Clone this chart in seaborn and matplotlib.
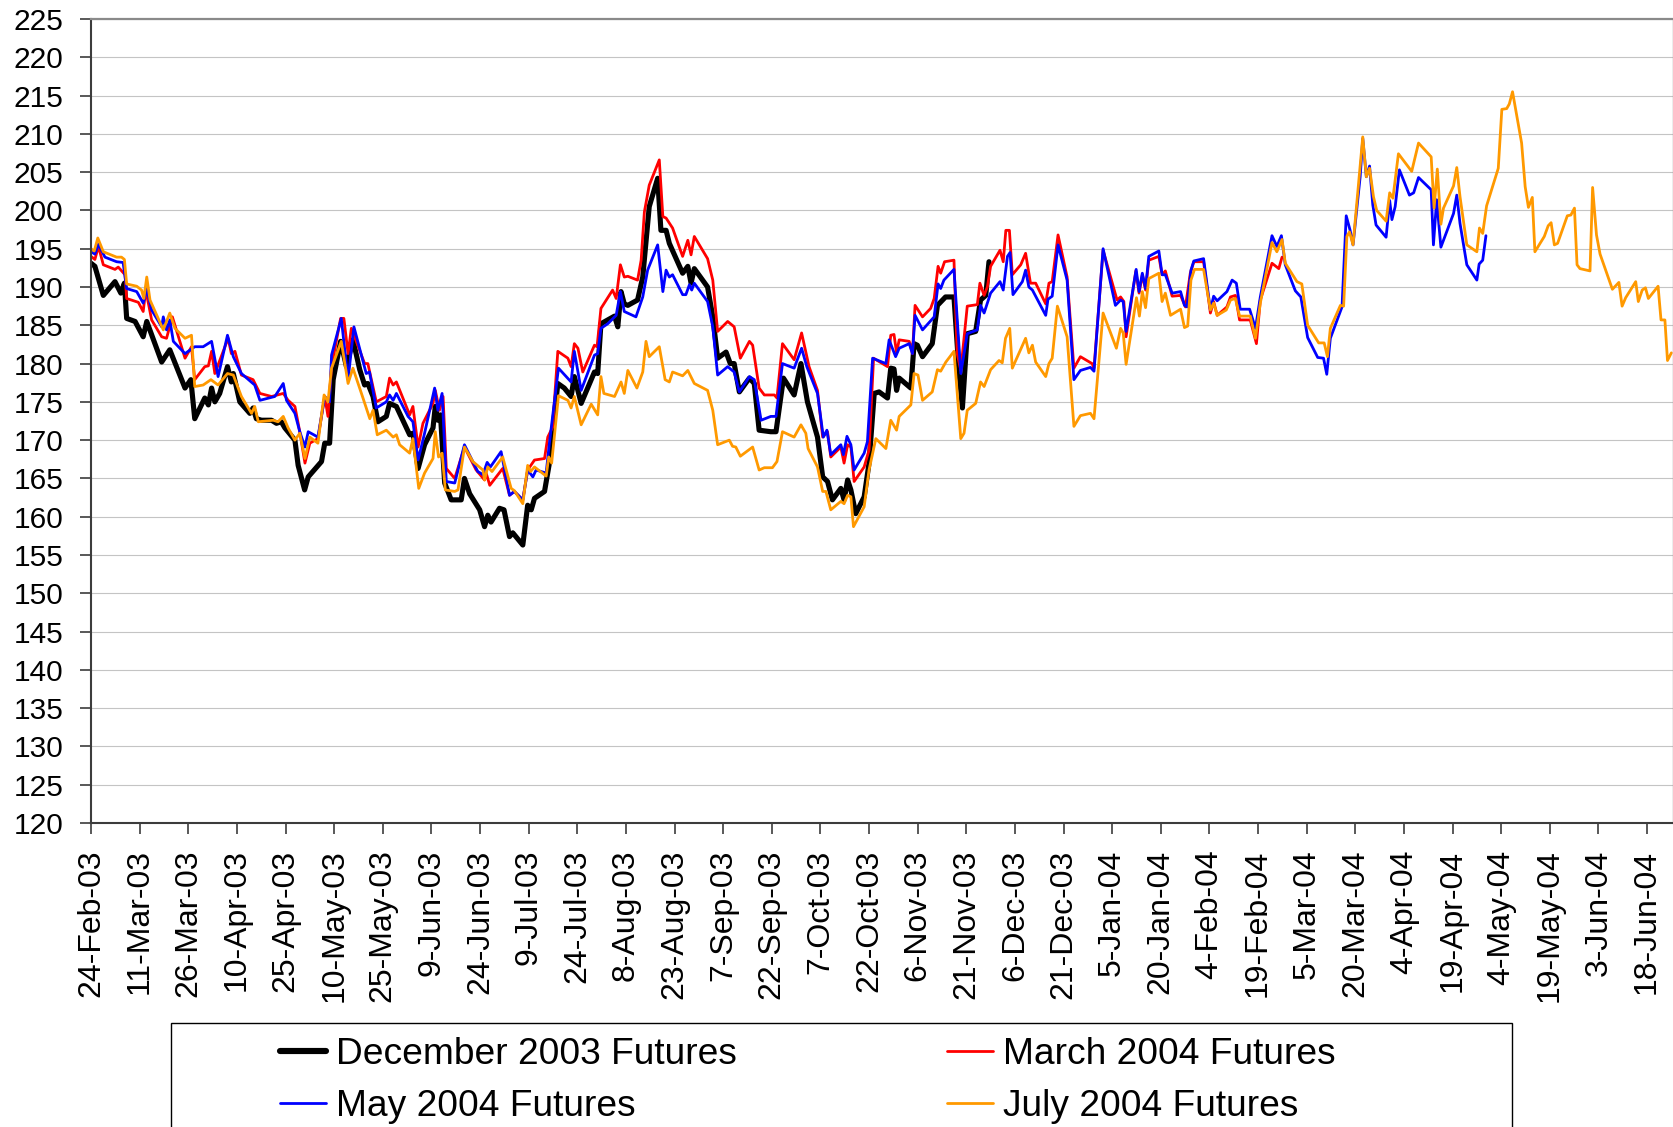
import numpy as np
import pandas as pd
import matplotlib
matplotlib.use("Agg")
import matplotlib.pyplot as plt
import matplotlib.dates as mdates
from matplotlib.patches import Rectangle
from matplotlib.lines import Line2D
import seaborn as sns

# ---------------- data (calendar days after 24-Feb-2003, price) ----------------
START = "2003-02-24"

dec_days = [0, 1.2, 3.8, 7.4, 9.2, 10.3, 11, 13.6, 16.1, 17.2, 21.8, 24.3, 29, 30.8, 32, 35.1, 36.2, 37.2, 38.2, 39.7,
            42.1, 43.3, 43.9, 45.9, 49, 50, 51, 52.6, 55.7, 57.2, 58.7, 59.8, 62.9, 63.9, 65.9, 67, 71.1, 72.1, 73.6, 74.7,
            77, 78.8, 80.8, 82.9, 84.4, 85.4, 87, 88.5, 91.1, 92.1, 94.2, 98.3, 99.3, 100.9, 102.9, 105.5, 106.2, 107, 107.8,
            109.1, 111.1, 114.2, 115.2, 116.8, 119.9, 121.4, 122.4, 123.4, 126, 127.4, 129.1, 130.1, 133.2, 134.7, 135.8,
            136.8, 139.9, 141.4, 144, 146, 148.1, 149.1, 151.2, 155.3, 156.3, 157.3, 161.5, 162.5, 163.5, 164.5, 165.6,
            168.6, 170.2, 172.2, 174.8, 175.8, 177.4, 178.4, 182.5, 184.1, 185.1, 186.1, 190.2, 191.8, 193.3, 195.9, 197.2,
            198.4, 200.0, 203.1, 204.6, 206.1, 209.7, 211.3, 213.6, 216.9, 219.0, 221.0, 224.1, 225.7, 227.2, 228.7, 231.3,
            232.3, 233.4, 234.4, 235.9, 238.5, 240.0, 241.6, 243.1, 245.7, 246.7, 247.7, 248.5, 249.3, 252.9, 253.9, 254.9,
            256.5, 259.5, 261.1, 263.6, 266.2, 267.8, 268.8, 270.3, 272.9, 274.4, 276.0, 277.0]
dec_vals = [193.1, 192.7, 188.9, 190.7, 189.2, 190.5, 185.9, 185.5, 183.5, 185.5, 180.2, 181.8, 176.8, 177.9, 172.8, 175.5,
            174.6, 176.8, 175.0, 176.1, 179.6, 177.6, 178.7, 175.0, 173.5, 174.2, 172.8, 172.6, 172.6, 172.2, 172.4, 171.6,
            170.0, 166.7, 163.5, 165.2, 167.2, 169.6, 169.6, 177.9, 182.9, 179.6, 183.1, 179.2, 177.2, 177.4, 175.7, 172.4,
            173.1, 174.8, 174.4, 170.7, 170.9, 166.3, 169.4, 171.6, 174.4, 172.6, 173.3, 164.4, 162.2, 162.2, 165.0, 163.0,
            160.9, 158.7, 160.2, 159.3, 161.1, 160.9, 157.4, 157.9, 156.3, 161.5, 160.9, 162.4, 163.3, 167.0, 177.4, 176.8,
            175.7, 178.3, 174.8, 178.9, 178.7, 185.2, 186.2, 184.8, 189.4, 187.8, 187.6, 188.3, 191.3, 200.5, 204.2, 197.4,
            197.4, 195.7, 191.8, 192.7, 190.5, 192.4, 190.0, 186.1, 180.7, 181.5, 180.0, 180.0, 176.3, 178.1, 177.4, 171.3,
            171.1, 171.1, 178.1, 175.9, 180.0, 175.0, 170.4, 165.2, 164.6, 162.2, 163.7, 162.2, 164.8, 163.5, 160.4, 162.6,
            167.0, 176.1, 176.3, 175.5, 179.4, 179.3, 176.5, 178.1, 176.8, 182.6, 182.4, 180.9, 182.6, 187.6, 188.7, 188.7,
            178.7, 174.2, 183.9, 184.2, 188.3, 188.9, 193.3]

mar_days = [0, 1.2, 2.3, 3.8, 7.4, 8.4, 10.5, 11, 14.6, 16.1, 16.9, 18.7, 21.8, 23.3, 25.1, 29, 31, 32, 35.1, 36.2, 37.2,
            38.2, 42.3, 43.3, 44.4, 46.4, 50, 52.1, 55.7, 59.3, 60.8, 62.9, 64.4, 66, 67.5, 70, 72.1, 73.1, 74.2, 77, 78,
            79.3, 80.3, 81.3, 84.4, 85.4, 88.0, 91.1, 92.1, 93.2, 94.2, 98.3, 99.3, 100.9, 102.4, 105.5, 106.2, 107.5, 108.6,
            109.6, 112.2, 115.2, 118.8, 121.4, 121.9, 123, 127.0, 129.1, 130.6, 133.2, 134.7, 136.8, 139.9, 140.9, 142.4, 144,
            147.1, 148.1, 149.1, 150.2, 151.7, 155.3, 156.1, 157.3, 160.9, 162.0, 163.3, 164.5, 165.6, 168.6, 169.7, 170.7,
            172.2, 175.3, 176.4, 177.4, 179.4, 182.5, 184.1, 185.1, 186.1, 190.2, 191.8, 193.3, 196.4, 198.4, 200.3, 203.1,
            204.1, 206.1, 207.7, 210.8, 211.6, 213.3, 216.9, 219.2, 221.5, 224.1, 225.7, 227.2, 228.2, 231.3, 232.3, 233.4,
            234.4, 235.4, 238.5, 240, 241.4, 245.7, 246.7, 247.7, 248.5, 249.3, 252.4, 253.4, 254.2, 256.5, 259.0, 260.1,
            261.3, 262.1, 263.3, 266.2, 267.2, 268.3, 270.3, 273.4, 274.2, 275.5, 276.5, 277.5, 280.4, 281.4, 282.2, 283.3,
            284.2, 286.8, 288.3, 289.8, 291.4, 294.5, 295.5, 296.5, 298.3, 301.1, 303.2, 305.2, 308.8, 309.4, 312.2, 316.5,
            317.6, 318.6, 319.3, 322.3, 323.3, 324.3, 325.3, 326.3, 329.4, 330.4, 331.4, 333.5, 336.1, 337.6, 339.1, 340.2,
            343.2, 345.3, 346.3, 347.4, 350.4, 351.5, 353, 354.3, 357.6, 359.5, 360.7, 364.3, 366.4, 367.4]
mar_vals = [194.0, 193.6, 195.3, 192.9, 192.3, 192.6, 191.6, 188.5, 188.0, 186.8, 189.6, 185.7, 183.5, 183.3, 186.1, 180.7,
            182.2, 177.9, 179.6, 179.7, 181.6, 178.7, 183.3, 181.3, 181.6, 178.5, 177.9, 176.1, 175.7, 176.1, 175.2, 174.4,
            171.1, 167.0, 169.6, 170.2, 175.7, 173.1, 179.6, 185.9, 185.9, 181.3, 184.6, 183.5, 180.0, 180.0, 175.0, 175.7,
            178.1, 177.2, 177.6, 173.3, 174.4, 169.1, 172.2, 174.8, 176.5, 173.9, 175.7, 166.3, 165.0, 169.1, 166.1, 164.8,
            165.7, 164.1, 166.3, 162.8, 163.3, 162.2, 166.1, 167.4, 167.6, 170.4, 171.7, 181.6, 180.7, 179.6, 182.6, 182.0,
            178.9, 182.4, 182.2, 187.2, 189.6, 188.5, 192.9, 191.3, 191.4, 190.9, 193.5, 199.8, 203.3, 206.6, 199.2, 199.0,
            197.7, 194.0, 196.1, 194.2, 196.6, 193.7, 190.9, 184.2, 185.5, 184.8, 180.7, 182.9, 182.4, 176.8, 175.9, 175.9,
            175.5, 182.6, 180.5, 184.0, 179.6, 176.5, 170.4, 171.1, 167.8, 169.1, 167.0, 169.4, 169.1, 164.6, 166.5, 168.7,
            180.7, 179.6, 183.7, 183.8, 181.4, 183.1, 182.9, 181.3, 187.6, 186.1, 187.2, 188.5, 192.7, 191.8, 193.3, 193.5,
            181.3, 179.1, 187.5, 187.7, 190.5, 188.9, 190.0, 192.7, 194.8, 193.3, 197.4, 197.4, 191.6, 192.9, 194.4, 190.5,
            190.5, 187.8, 190.5, 190.7, 196.8, 191.3, 179.4, 180.9, 180.0, 179.4, 194.8, 188.3, 188.7, 188.1, 183.5, 192.1,
            189.2, 191.6, 189.6, 193.5, 194.0, 191.6, 192.1, 188.8, 188.9, 187.4, 191.8, 193.3, 193.3, 186.6, 188.1, 186.3,
            187.4, 188.7, 188.9, 185.7, 185.7, 182.6, 188.3, 193.1, 192.4, 193.9]

may_days = [0, 1.2, 2.3, 4.3, 7.9, 9.9, 11, 14.1, 16.1, 17.2, 18.7, 21.8, 22.3, 23.3, 24.3, 25.4, 29, 32, 34.6, 37.2, 39.2,
            42.1, 43.9, 46.4, 50.5, 52.1, 56.7, 59.3, 60.3, 62.9, 64.4, 66, 67, 70, 72.1, 73.6, 74.2, 77.2, 79.3, 81.1, 84.9,
            85.9, 88.0, 91.1, 92.1, 93.2, 94.2, 97.8, 99.3, 100.9, 102.9, 106, 107, 108.3, 109.6, 112.2, 115.2, 119.3, 120.9,
            122.2, 123.2, 126.5, 129.1, 130.6, 133.2, 134.7, 136.3, 137.3, 140.4, 141.4, 144.2, 148.1, 149.1, 151.2, 155.3,
            156.3, 157.3, 159.4, 162.0, 163.3, 164.5, 168.1, 170.2, 171.7, 174.8, 176.4, 177.4, 178.4, 179.4, 182.5, 183.5,
            184.6, 185.3, 186.1, 190.2, 191.8, 193.3, 196.4, 198.4, 200.0, 203.1, 204.6, 206.7, 209.7, 211.3, 213.3, 216.9,
            219.2, 220.8, 224.1, 225.9, 227, 228.2, 231.3, 232.1, 233.2, 234.4, 235.4, 238.5, 239.5, 241.1, 245.2, 246.2,
            248.2, 249.3, 252.4, 253.4, 254.2, 256.5, 260.1, 261.3, 262.1, 263.1, 266.2, 268.3, 270.3, 273.4, 274.4, 275.5,
            277.5, 280.4, 281.4, 282.7, 283.5, 284.4, 287.3, 288.3, 289.3, 290.4, 294.5, 295.2, 296.5, 298.3, 301.1, 303.2,
            305.2, 308.3, 309.4, 312.2, 316.0, 317.6, 318.4, 319.3, 322.4, 323.3, 324.3, 325.3, 326.3, 329.4, 330.4, 331.4,
            333.5, 336.1, 337.3, 338.1, 339.3, 340.2, 343.2, 345.3, 346.3, 347.4, 350.4, 352, 353.3, 354.5, 357.4, 359.2,
            360.7, 364.3, 365.8, 367.2, 368.4, 371.5, 373.2, 375.3, 378.4, 380.2, 381.2, 382.3, 385.9, 387.2, 388.4, 389.3,
            391.5, 392.3, 393.4, 394.4, 395.4, 396.4, 399.5, 400.6, 401.3, 402.3, 403.6, 406.7, 408.0, 409.5, 413.4, 414.1,
            415.1, 416.4, 420.3, 421.3, 422.3, 424.4, 427.5, 428.2, 429.3, 430.3]
may_vals = [194.6, 194.3, 195.6, 193.9, 193.3, 193.2, 189.8, 189.4, 187.9, 189.8, 187.0, 184.8, 186.1, 184.4, 185.7, 182.9,
            181.3, 182.2, 182.2, 182.9, 178.3, 183.7, 180.9, 178.7, 177.2, 175.2, 175.7, 177.4, 175.2, 173.5, 171.1, 169.1,
            171.1, 170.4, 175.7, 175.0, 181.1, 185.9, 177.9, 184.8, 178.7, 178.9, 174.2, 175.0, 175.9, 175.2, 176.1, 173.1,
            172.4, 167.4, 170.9, 176.8, 173.9, 176.1, 164.6, 164.4, 169.4, 165.9, 165.5, 167.1, 166.5, 168.5, 162.8, 163.3,
            162.2, 166.1, 165.2, 166.1, 165.7, 169.6, 179.4, 177.6, 181.6, 176.5, 181.1, 181.3, 184.6, 185.2, 186.3, 189.4,
            186.8, 186.1, 188.7, 192.2, 195.5, 189.4, 192.2, 191.3, 191.6, 189.0, 189.0, 190.3, 189.6, 190.5, 188.1, 184.8,
            178.5, 179.6, 178.9, 176.3, 178.3, 177.9, 172.6, 173.1, 173.1, 180.0, 179.4, 182.0, 179.6, 176.1, 170.4, 171.3,
            168.1, 169.4, 168.1, 170.5, 169.4, 166.1, 168.3, 169.8, 180.7, 180.0, 183.1, 180.9, 182.0, 182.6, 181.3, 186.3,
            184.4, 186.1, 190.4, 189.8, 190.9, 192.3, 178.7, 183.9, 184.4, 187.6, 186.6, 189.2, 190.7, 189.6, 194.0, 194.5,
            189.0, 190.7, 192.2, 190.0, 189.6, 186.3, 188.4, 188.8, 195.5, 190.9, 177.9, 179.1, 179.5, 179.0, 195.0, 187.6,
            188.3, 188.1, 184.2, 192.3, 189.4, 191.8, 189.8, 194.0, 194.7, 191.6, 191.6, 189.2, 189.4, 187.6, 187.4, 192.2,
            193.4, 193.7, 187.0, 188.8, 188.2, 189.4, 190.9, 190.5, 187.1, 187.1, 184.6, 188.7, 196.7, 195.3, 196.7, 192.9,
            189.5, 188.7, 183.4, 180.8, 180.7, 178.6, 183.3, 187.4, 199.3, 197.4, 195.5, 204.4, 209.4, 204.4, 205.8, 200.7,
            198.1, 196.5, 201.3, 198.8, 200.5, 205.3, 202.0, 202.3, 204.3, 202.7, 195.5, 201.4, 195.2, 199.6, 202.0, 198.3,
            192.9, 190.9, 193.0, 193.5, 196.7]

jul_days = [0, 1.0, 2.1, 3.8, 7.9, 9.4, 10.3, 11, 14.1, 15.6, 16.3, 17.2, 18.2, 22.3, 24.3, 25.9, 29, 31, 32, 34.6, 37.0,
            39.2, 42.1, 43.9, 46.4, 49.5, 50.5, 51.6, 56.2, 57.7, 59.3, 60.8, 62.9, 64.4, 66, 67.5, 70, 71.9, 73.1, 74.2,
            77.2, 79.3, 80.8, 83.9, 86.0, 87, 88.3, 91.1, 93.2, 94.2, 95.2, 98.3, 99.3, 101.1, 102.9, 105.5, 106.2, 107.2,
            108.3, 109.3, 112.2, 113.2, 115.2, 117.8, 120.9, 121.4, 122.4, 123.7, 127.0, 129.6, 130.6, 133.2, 134.7, 135.6,
            136.8, 140.4, 141.2, 142.1, 144.2, 147.1, 148.1, 149.1, 151.2, 154.3, 156.3, 157.3, 158.2, 161.5, 163.5, 164.5,
            165.6, 168.4, 170.2, 171.2, 172.2, 175.3, 177.1, 178.4, 179.4, 182.5, 184.1, 186.1, 190.2, 191.8, 193.3, 196.9,
            197.9, 198.9, 200.3, 204.1, 206.1, 207.7, 210.2, 211.6, 213.3, 216.9, 219.0, 220.5, 221.2, 224.1, 225.7, 226.7,
            228.2, 231.3, 232.3, 233.4, 234.4, 235.2, 238.5, 240.0, 242.1, 245.2, 246.7, 248.5, 249.3, 252.9, 253.9, 255.1,
            256.5, 259.5, 261.1, 262.1, 263.7, 266.2, 268.3, 269.3, 270.3, 272.9, 274.4, 275.5, 277.5, 280.1, 281.1, 282.1,
            283.4, 284.2, 288.3, 289.3, 290.4, 291.4, 294.5, 295.5, 296.5, 298.1, 301.1, 303.2, 305.2, 308.3, 309.4, 312.2,
            316.3, 317.6, 318.4, 319.3, 322.5, 323.4, 324.3, 325.3, 326.3, 329.4, 330.4, 331.4, 333.0, 336.1, 337.3, 338.3,
            339.3, 340.4, 343.2, 345.3, 346.3, 347.4, 350.2, 351.5, 353.0, 354.3, 357.6, 359.2, 360.7, 364.3, 365.8, 367.4,
            368.4, 372.0, 373.5, 375.3, 378.7, 380.4, 381.4, 382.3, 385.4, 386.4, 387.4, 388.2, 389.3, 392.3, 393.4, 394.4,
            395.6, 396.6, 399.5, 400.6, 401.6, 403.3, 407.4, 409.5, 413.4, 414.3, 415.3, 416.4, 417.2, 420.3, 421.3, 422.3,
            424.4, 427.5, 428.3, 429.3, 430.5, 434.1, 435.2, 436.7, 437.5, 438.5, 441.3, 442.4, 443.4, 444.6, 445.4, 448.3,
            449.5, 450.4, 451.4, 452.4, 455.4, 456.5, 457.6, 458.4, 459.3, 462.4, 463.2, 464.4, 465.5, 469.3, 471.3, 472.3,
            473.4, 476.5, 477.3, 478.5, 479.5, 480.4, 483.4, 484.3, 485.5, 486.3, 487.5]
jul_vals = [195.0, 194.7, 196.4, 194.6, 193.9, 193.9, 193.6, 190.4, 190.1, 189.6, 188.5, 191.3, 188.3, 184.4, 186.6, 184.6,
            183.3, 183.7, 177.0, 177.2, 177.9, 177.2, 178.7, 178.5, 175.7, 173.5, 174.4, 172.4, 172.6, 172.4, 173.1, 171.6,
            170.0, 170.9, 167.6, 170.4, 169.6, 175.9, 175.0, 179.4, 182.9, 177.4, 179.4, 175.5, 172.8, 173.9, 170.7, 171.3,
            170.4, 170.7, 169.4, 168.3, 170.2, 163.7, 165.7, 167.6, 171.1, 167.8, 168.3, 163.5, 163.3, 163.5, 169.1, 167.2,
            166.1, 164.8, 166.5, 165.9, 167.8, 163.7, 163.4, 161.7, 166.7, 165.9, 166.5, 165.3, 167.8, 167.0, 175.8, 175.2,
            174.2, 175.7, 172.0, 174.7, 173.3, 178.3, 176.1, 175.7, 177.6, 176.1, 179.1, 176.8, 178.9, 182.9, 180.9, 182.2,
            177.9, 177.6, 178.9, 178.4, 179.1, 177.4, 176.5, 173.9, 169.4, 170.0, 169.2, 169.1, 167.9, 169.1, 166.1, 166.4,
            166.4, 167.2, 171.1, 170.4, 172.0, 170.9, 168.9, 166.5, 163.3, 163.3, 160.9, 162.0, 161.7, 162.8, 162.6, 158.7,
            161.3, 166.1, 170.2, 168.9, 172.6, 171.3, 173.1, 174.6, 178.7, 178.5, 175.2, 176.3, 179.2, 179.0, 180.2, 181.6,
            170.2, 170.9, 173.9, 174.8, 177.6, 177.0, 179.2, 180.4, 180.1, 183.3, 184.6, 179.4, 183.3, 181.4, 182.4, 180.2,
            178.3, 180.0, 180.7, 187.5, 183.5, 171.8, 173.2, 173.5, 172.8, 186.6, 182.0, 184.6, 184.0, 179.9, 188.6, 186.2,
            189.4, 187.3, 191.1, 191.8, 188.1, 189.2, 186.3, 187.1, 184.7, 184.9, 190.9, 192.3, 192.3, 187.0, 187.9, 186.3,
            187.0, 188.3, 188.5, 186.2, 186.2, 183.3, 187.9, 195.8, 194.6, 196.2, 193.1, 190.7, 190.4, 185.0, 182.7, 182.7,
            180.9, 184.6, 187.6, 187.5, 196.6, 197.2, 195.5, 209.6, 204.4, 205.5, 201.8, 200.0, 198.6, 202.3, 201.6, 207.4,
            205.1, 208.8, 207.0, 200.3, 205.4, 198.2, 200.3, 203.2, 205.6, 201.8, 195.5, 194.6, 197.7, 197.0, 200.6, 205.5,
            213.2, 213.3, 213.9, 215.5, 208.8, 203.1, 200.4, 201.7, 194.6, 196.6, 198.0, 198.4, 195.5, 195.7, 199.3, 199.4,
            200.3, 192.9, 192.4, 192.1, 203.0, 196.8, 194.3, 189.7, 190.6, 187.5, 188.6, 190.7, 188.1, 189.6, 189.9, 188.5,
            190.1, 185.7, 185.7, 180.4, 181.4]

series_names = ["December 2003 Futures", "March 2004 Futures", "May 2004 Futures", "July 2004 Futures"]
series_colors = ["#000000", "#FF0000", "#0000FF", "#FF9900"]
series_widths = [3.7, 2.0, 2.0, 2.0]

y_ticks = list(range(120, 226, 5))

# ---------------- figure ----------------
sns.set_style("white")
plt.rcParams["font.family"] = ["Liberation Sans", "DejaVu Sans"]
plt.rcParams["text.color"] = "black"
plt.rcParams["xtick.labelcolor"] = "black"
plt.rcParams["ytick.labelcolor"] = "black"

W, H = 1674, 1127
fig = plt.figure(figsize=(W / 100, H / 100), dpi=100)
ax = fig.add_axes([91 / W, 1 - 823 / H, (1673 - 91) / W, (823 - 19) / H])

start = pd.Timestamp(START)
all_days = [dec_days, mar_days, may_days, jul_days]
all_vals = [dec_vals, mar_vals, may_vals, jul_vals]

handles = {}
for name, days, vals, col, lw in zip(series_names, all_days, all_vals, series_colors, series_widths):
    df = pd.DataFrame({"date": start + pd.to_timedelta(np.array(days), unit="D"), "price": vals})
    sns.lineplot(data=df, x="date", y="price", ax=ax, color=col, linewidth=lw, legend=False,
                 estimator=None, sort=False)
    handles[name] = Line2D([], [], color=col, linewidth=lw * (1.2 if lw > 3 else 1.0))

ax.set_xlim(start, start + pd.Timedelta(days=488))
ax.set_ylim(120, 225)
ax.set_yticks(y_ticks)
xt = pd.date_range(start, periods=33, freq="15D")
ax.set_xticks(xt)
ax.xaxis.set_major_formatter(mdates.DateFormatter("%-d-%b-%y"))
ax.set_xlabel("")
ax.set_ylabel("")

ax.yaxis.grid(True, color="#c4c4c4", linewidth=0.8)
ax.xaxis.grid(False)
ax.set_axisbelow(True)

for s in ["left", "bottom"]:
    ax.spines[s].set_color("#3c3c3c")
    ax.spines[s].set_linewidth(1.5)
ax.spines["top"].set_color("#8a8a8a")
ax.spines["top"].set_linewidth(1.6)
ax.spines["right"].set_color("#a0a0a0")
ax.spines["right"].set_linewidth(1.0)

ax.tick_params(axis="y", direction="out", length=8, width=1.2, color="#3c3c3c",
               labelsize=21.5, pad=12, left=True, labelcolor="black")
ax.tick_params(axis="x", direction="out", length=8, width=1.2, color="#3c3c3c",
               labelsize=23, pad=11, bottom=True, labelrotation=90, labelcolor="black")

# ---------------- legend ----------------
order = ["December 2003 Futures", "May 2004 Futures", "March 2004 Futures", "July 2004 Futures"]
leg = fig.legend([handles[n] for n in order], order, ncol=2, frameon=False,
                 loc="upper left", bbox_to_anchor=(280 / W, 1 - 1037 / H),
                 fontsize=26.7, handlelength=1.25, handletextpad=0.27,
                 columnspacing=5.66, labelspacing=0.45, borderpad=0, borderaxespad=0)
for t in leg.get_texts():
    t.set_color("black")
fig.patches.append(Rectangle((171 / W, -0.01), (1512 - 171) / W, 0.01 + (1127 - 1023) / H,
                             transform=fig.transFigure, fill=False, edgecolor="#000000",
                             linewidth=1.0))

fig.savefig("out.png", dpi=100)
